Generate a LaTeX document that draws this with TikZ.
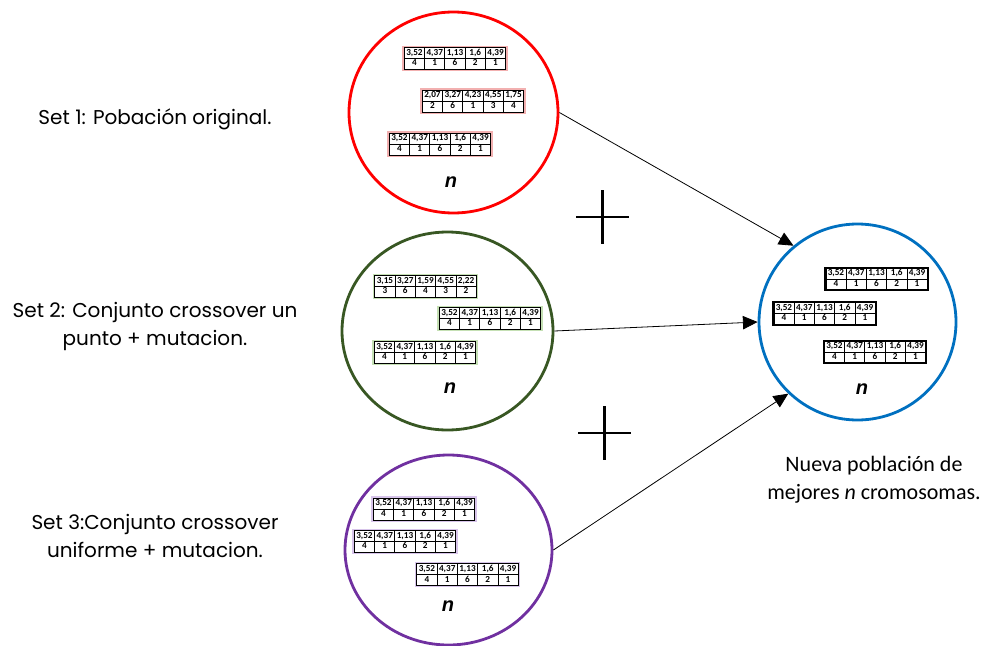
\documentclass[tikz,border=0pt]{standalone}
\usepackage{fontspec}
\setmainfont{Carlito}
\newfontfamily\gothic{Poppins}
\newfontfamily\arialish{Liberation Sans}
\usepackage{array}
\usepackage{xcolor}
\usetikzlibrary{arrows.meta,shapes.geometric}

\definecolor{circred}{HTML}{FF0000}
\definecolor{circgreen}{HTML}{385723}
\definecolor{circpurple}{HTML}{7030A0}
\definecolor{circblue}{HTML}{0070C0}
\definecolor{pinkline}{HTML}{F2B0B0}
\definecolor{greenline}{HTML}{C5E0B4}
\definecolor{lilacline}{HTML}{D7C4EA}

\newcolumntype{C}{w{c}{13.6pt}}
\newcommand{\crom}[2]{{%
	\setlength{\tabcolsep}{0.5pt}\setlength{\arrayrulewidth}{0.6pt}%
	\fontsize{6.9}{7.6}\selectfont\bfseries
	\begin{tabular}{|C|C|C|C|C|}\hline #1\\\hline #2\\\hline\end{tabular}}}
\newcommand{\base}{\crom{3,52&4,37&1,13&1,6&4,39}{4&1&6&2&1}}

\tikzset{
	circ/.style={ellipse,draw=#1,line width=2.1pt,inner sep=0pt},
	frame/.style={draw=#1,line width=1.5pt,inner sep=0.4pt},
	bestframe/.style={draw=black,line width=1.6pt,inner sep=0pt},
	nlabel/.style={font=\arialish\bfseries\itshape\fontsize{15}{18}\selectfont},
	setlabel/.style={align=center,font=\gothic\fontsize{15}{21}\selectfont},
	newlabel/.style={align=center,font=\fontsize{16.5}{21}\selectfont},
	plus/.style={line width=1.9pt},
}

\begin{document}
\begin{tikzpicture}[x=0.75pt,y=-0.75pt]
	\useasboundingbox (0,0) rectangle (989,646);
	% populations
	\node[circ=circred,minimum width=156.75pt,minimum height=150.75pt] (orig) at (453.5,112.5) {};
	\node[circ=circgreen,minimum width=158.25pt,minimum height=148.5pt] (cross) at (447.5,331) {};
	\node[circ=circpurple,minimum width=155.25pt,minimum height=142.5pt] (unif) at (448.5,550) {};
	\node[circ=circblue,minimum width=147.75pt,minimum height=147pt] (nueva) at (857.5,322) {};
	%
	% set 1
	\node[frame=pinkline] (o1) at (455,58.5) {\base};
	\node[frame=pinkline] (o2) at (473,101) {\crom{2,07&3,27&4,23&4,55&1,75}{2&6&1&3&4}};
	\node[frame=pinkline] (o3) at (440,144) {\base};
	\node[nlabel] (on) at (451,182) {n};
	% set 2
	\node[frame=greenline] (c1) at (425.5,286.5) {\crom{3,15&3,27&1,59&4,55&2,22}{3&6&4&3&2}};
	\node[frame=greenline] (c2) at (490,318.5) {\base};
	\node[frame=greenline] (c3) at (425,352.5) {\base};
	\node[nlabel] (cn) at (450,388) {n};
	% set 3
	\node[frame=lilacline] (u1) at (424,509) {\base};
	\node[frame=lilacline] (u2) at (405,541.5) {\base};
	\node[frame=lilacline] (u3) at (467.5,574.5) {\base};
	\node[nlabel] (un) at (448,606) {n};
	% new population
	\node[bestframe] (n1) at (876.5,279) {\base};
	\node[bestframe] (n2) at (824.5,313.5) {\base};
	\node[bestframe] (n3) at (875,352) {\base};
	\node[nlabel] (nn) at (862,389) {n};
	%
	% labels
	\node[setlabel] (s1) at (155,119) {Set 1: Pobación original.};
	\node[setlabel] (s2) at (155,326) {Set 2: Conjunto crossover un\\punto + mutacion.};
	\node[setlabel] (s3) at (155,536) {Set 3:Conjunto crossover\\uniforme + mutacion.};
	\node[newlabel] (s4) at (874,480) {Nueva población de\\mejores \textit{n} cromosomas.};
	%
	% plus signs
	\draw[plus] (576,217) -- (629,217) (602.5,190) -- (602.5,244);
	\draw[plus] (578,433) -- (631,433) (604.5,406) -- (604.5,460);
	%
	\path[-{Triangle[length=11pt,width=10pt]},line width=0.6pt]
	% arrows into the new population
	(orig.east) edge (nueva.130)
	(cross.east) edge (nueva.west)
	(unif.east) edge (nueva.226);
\end{tikzpicture}
\end{document}
